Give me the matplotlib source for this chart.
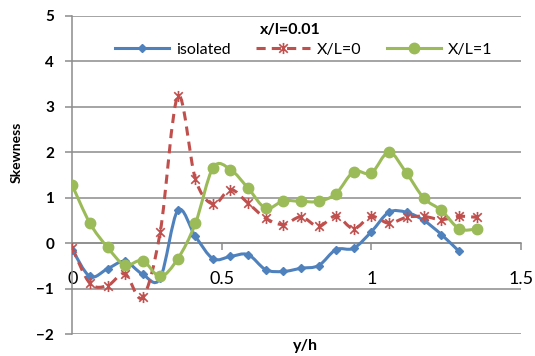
import numpy as np
import matplotlib
matplotlib.use("Agg")
import matplotlib.pyplot as plt
from matplotlib.path import Path
from matplotlib.patches import PathPatch
from matplotlib.lines import Line2D

plt.rcParams['font.family'] = ['Lato', 'DejaVu Sans']

# data
y_h = [0, 0.059, 0.118, 0.176, 0.235, 0.294, 0.353, 0.412, 0.471, 0.529,
       0.588, 0.647, 0.706, 0.765, 0.824, 0.882, 0.941, 1.0, 1.059, 1.118,
       1.176, 1.235, 1.294, 1.353]
isolated = [-0.14, -0.73, -0.56, -0.40, -0.68, -0.77, 0.72, 0.15, -0.34, -0.29,
            -0.25, -0.58, -0.62, -0.55, -0.49, -0.14, -0.11, 0.25, 0.68, 0.68,
            0.50, 0.19, -0.18]
xl0 = [-0.11, -0.88, -0.93, -0.67, -1.19, 0.24, 3.23, 1.41, 0.86, 1.18,
       0.88, 0.55, 0.41, 0.58, 0.37, 0.60, 0.32, 0.59, 0.44, 0.57,
       0.59, 0.52, 0.59, 0.57]
xl1 = [1.27, 0.44, -0.09, -0.48, -0.38, -0.73, -0.34, 0.44, 1.66, 1.62,
       1.21, 0.77, 0.93, 0.92, 0.92, 1.09, 1.57, 1.54, 2.0, 1.54,
       0.99, 0.72, 0.32, 0.31]

blue = '#4F81BD'
red = '#C0504D'
green = '#9BBB59'
grid_c = '#8C8C8C'

# asterisk marker like excel's star (X plus vertical bar)
star = Path([(-1, -1), (1, 1), (-1, 1), (1, -1), (0, -1.3), (0, 1.3)],
            [Path.MOVETO, Path.LINETO, Path.MOVETO, Path.LINETO, Path.MOVETO, Path.LINETO])


def smooth_path(x, y):
    # excel style smoothed line: bezier segments through the points
    x = np.asarray(x, float)
    y = np.asarray(y, float)
    n = len(x)
    verts = [(x[0], y[0])]
    codes = [Path.MOVETO]
    for i in range(n - 1):
        i0 = max(i - 1, 0)
        i3 = min(i + 2, n - 1)
        c1 = (x[i] + (x[i + 1] - x[i0]) / 6, y[i] + (y[i + 1] - y[i0]) / 6)
        c2 = (x[i + 1] - (x[i3] - x[i]) / 6, y[i + 1] - (y[i3] - y[i]) / 6)
        verts += [c1, c2, (x[i + 1], y[i + 1])]
        codes += [Path.CURVE4] * 3
    return Path(verts, codes)


fig = plt.figure(figsize=(5.35, 3.56), dpi=100)
ax = fig.add_axes([0.1351, 0.061, 0.8382, 0.895])

for yy in range(-2, 6):
    ax.axhline(yy, color=grid_c, lw=1.1, zorder=1)

series = [
    (y_h[:len(isolated)], isolated, blue, '-', dict(marker='D', ms=4.5, mec=blue, mfc=blue), 'isolated'),
    (y_h, xl0, red, (0, (3, 2)), dict(marker=star, ms=8, mec=red, mfc='none', mew=1.2), 'X/L=0'),
    (y_h, xl1, green, '-', dict(marker='o', ms=7.5, mec=green, mfc=green), 'X/L=1'),
]
handles = []
for xs, ys, c, ls, mk, lab in series:
    ax.add_patch(PathPatch(smooth_path(xs, ys), fill=False, edgecolor=c, lw=2.2,
                           linestyle=ls, zorder=3, capstyle='butt'))
    ax.plot(xs, ys, linestyle='none', zorder=4, **mk)
    handles.append(Line2D([], [], color=c, lw=2.2, linestyle=ls, **mk))

ax.set_xlim(0, 1.5)
ax.set_ylim(-2, 5)
ax.set_xticks([0, 0.5, 1, 1.5])
ax.set_xticklabels(['0', '0.5', '1', '1.5'])
ax.set_yticks(range(-2, 6))

for s in ['top', 'right']:
    ax.spines[s].set_visible(False)
ax.spines['bottom'].set_position(('data', 0))
ax.spines['bottom'].set_color(grid_c)
ax.spines['left'].set_color(grid_c)
ax.spines['bottom'].set_linewidth(1.1)
ax.spines['left'].set_linewidth(1.1)
ax.tick_params(axis='x', direction='out', length=5, width=1.1, color=grid_c,
               labelsize=13, pad=15)
ax.tick_params(axis='y', direction='out', length=5, width=1.1, color=grid_c,
               labelsize=11, pad=8)
for t in ax.get_yticklabels():
    t.set_fontweight('bold')

ax.legend(handles=handles, labels=[h[5] for h in series], ncol=3, frameon=False,
          loc='center', bbox_to_anchor=(303.5 / 535, 1 - 50 / 356),
          bbox_transform=fig.transFigure, fontsize=11.5, handlelength=3.4,
          columnspacing=1.6, handletextpad=0.4, borderpad=0, borderaxespad=0)
fig.text(290 / 535, 1 - 30 / 356, 'x/l=0.01', ha='center', va='center',
         fontsize=11.5, fontweight='bold')
fig.text(17 / 535, 1 - 152 / 356, 'Skewness', rotation=90, ha='center',
         va='center', fontsize=10, fontweight='bold')
fig.text(305 / 535, 1 - 346 / 356, 'y/h', ha='center', va='center',
         fontsize=11.5, fontweight='bold')

fig.savefig('out.png', dpi=100)
